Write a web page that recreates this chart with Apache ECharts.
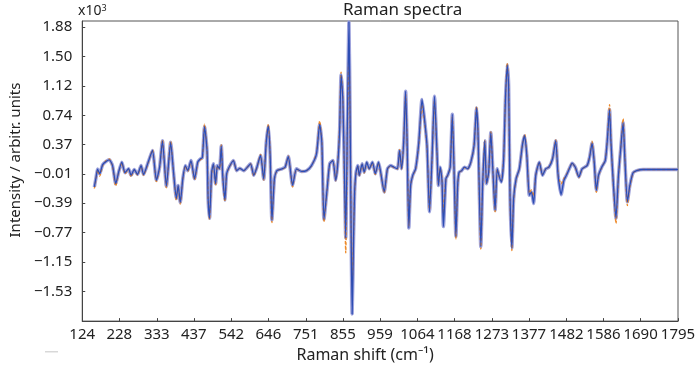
<!DOCTYPE html>
<html><head><meta charset="utf-8">
<script src="https://cdn.jsdelivr.net/npm/echarts@6/dist/echarts.min.js"></script>
<style>html,body{margin:0;padding:0;background:#fff}#c{width:700px;height:368px}</style>
</head><body><div id="c"></div>
<script>
const xTicks = [124,228,333,437,542,646,751,855,959,1064,1168,1273,1377,1482,1586,1690,1795];
const yTicks = [-1.53,-1.15,-0.77,-0.39,-0.01,0.37,0.74,1.12,1.50,1.88];
const ramanShift = [158,163,167,173,181,191,200,209,218,226,235,244,254,261,270,279,289,296,309,321,332,341,349,360,372,380,388,393,399,406,413,420,429,439,448,455,461,467,474,477,481,487,492,498,503,509,514,518,524,529,536,548,557,566,577,596,605,614,624,633,640,646,651,656,663,670,684,693,702,714,725,739,753,767,781,790,796,802,811,818,827,835,841,846,850,855,860,863,868,872,875,878,881,885,888,892,897,901,909,915,922,929,938,946,955,961,971,980,989,998,1008,1014,1020,1026,1031,1035,1040,1045,1051,1059,1068,1077,1084,1091,1098,1105,1112,1119,1123,1128,1133,1137,1144,1149,1156,1162,1168,1172,1177,1181,1188,1196,1205,1214,1223,1230,1234,1242,1247,1253,1258,1264,1270,1276,1282,1288,1294,1300,1306,1311,1316,1320,1324,1329,1334,1341,1350,1359,1365,1371,1378,1384,1390,1396,1406,1415,1424,1433,1443,1452,1458,1461,1467,1475,1482,1492,1498,1507,1517,1526,1540,1547,1554,1560,1566,1572,1581,1591,1597,1603,1607,1614,1621,1628,1635,1641,1646,1653,1660,1669,1679,1697,1734,1795];
const intensityBlue = [-0.18,-0.05,0.05,-0.01,0.105,0.15,0.17,0.095,-0.14,0.01,0.14,0.003,0.055,-0.03,0.045,-0.02,0.096,-0.02,0.14,0.29,-0.095,0.075,0.415,-0.17,0.395,0.01,-0.33,-0.16,-0.38,-0.075,0.096,0.03,0.16,-0.075,0.14,0.18,0.2,0.6,0.29,-0.33,-0.585,0.01,0.118,-0.14,0.096,0.054,0.35,-0.03,-0.35,-0.01,0.075,0.16,0.03,0.06,0.03,0.118,-0.03,0.075,0.23,-0.08,0.39,0.607,0.225,-0.61,-0.074,0.03,0.054,0.075,0.215,-0.16,0.054,0.02,0.03,0.096,0.245,0.63,0.395,-0.6,-0.2,0.118,0.16,-0.095,0.14,0.565,1.267,0.95,-0.16,-0.84,0.735,1.95,0.86,-0.67,-1.82,-0.84,-0.245,0.01,0.096,-0.03,0.118,0.01,0.14,0.054,0.14,-0.01,0.14,0.01,-0.245,0.054,0.096,0.075,0.054,0.29,0.054,0.437,1.054,0.437,-0.71,-0.16,-0.03,0.054,0.394,0.948,0.692,0.352,-0.5,0.18,0.99,0.267,-0.16,0.075,-0.095,-0.69,-0.074,-0.031,0.075,0.756,-0.16,-0.82,-0.16,0.01,0.03,0.075,0.054,0.14,0.352,0.841,0.522,-0.95,-0.16,0.416,-0.138,0.01,0.522,0.01,-0.48,0.054,-0.053,-0.116,0.18,0.948,1.395,1.118,-0.33,-0.968,-0.33,-0.074,0.054,0.373,0.48,0.224,-0.287,-0.245,-0.393,-0.03,0.14,-0.03,0.054,0.075,0.18,0.416,0.01,-0.12,-0.28,-0.095,-0.03,0.075,0.126,0.075,-0.053,0.054,0.096,0.203,0.386,0.14,-0.223,-0.03,0.075,0.16,0.437,0.82,0.394,-0.16,-0.585,-0.03,0.352,0.65,0.182,-0.372,-0.16,0.003,0.03,0.045,0.045,0.045];
const intensityOrange = [-0.2,-0.07,0.04,-0.04,0.09,0.16,0.18,0.08,-0.17,0.0,0.13,-0.01,0.05,-0.05,0.04,-0.03,0.09,-0.03,0.13,0.3,-0.11,0.07,0.43,-0.19,0.41,0.0,-0.35,-0.17,-0.4,-0.08,0.09,0.02,0.15,-0.09,0.13,0.17,0.19,0.63,0.3,-0.32,-0.6,0.0,0.11,-0.16,0.09,0.05,0.36,-0.04,-0.37,-0.02,0.07,0.16,0.03,0.06,0.03,0.12,-0.04,0.07,0.24,-0.09,0.41,0.63,0.24,-0.64,-0.08,0.03,0.05,0.07,0.22,-0.18,0.05,0.02,0.03,0.09,0.26,0.67,0.41,-0.63,-0.21,0.11,0.16,-0.1,0.15,0.6,1.3,0.97,-0.3,-1.03,0.6,1.55,0.8,-0.6,-1.45,-0.8,-0.25,0.0,0.09,-0.04,0.11,0.0,0.13,0.05,0.13,-0.02,0.13,0.0,-0.26,0.05,0.09,0.07,0.05,0.3,0.05,0.45,1.02,0.45,-0.68,-0.17,-0.04,0.05,0.37,0.88,0.66,0.33,-0.47,0.17,0.93,0.26,-0.15,0.06,-0.07,-0.52,-0.07,-0.03,0.07,0.72,-0.17,-0.85,-0.17,0.0,0.03,0.07,0.05,0.14,0.36,0.86,0.54,-0.98,-0.17,0.42,-0.14,0.0,0.53,0.0,-0.5,0.05,-0.05,-0.1,0.19,0.97,1.42,1.13,-0.34,-1.0,-0.34,-0.08,0.05,0.38,0.5,0.23,-0.26,-0.22,-0.3,-0.03,0.14,-0.02,0.05,0.08,0.19,0.43,0.02,-0.08,-0.14,-0.07,-0.02,0.08,0.13,0.07,-0.06,0.05,0.1,0.21,0.41,0.14,-0.25,-0.04,0.07,0.17,0.45,0.88,0.41,-0.18,-0.65,-0.05,0.36,0.7,0.2,-0.42,-0.18,0.0,0.03,0.045,0.045,0.045];

const pairs = vals => ramanShift.map((x, i) => [x, vals[i]]);
const FONT = 'Noto Sans';
const chart = echarts.init(document.getElementById('c'), null, {renderer: 'canvas'});
const fmtY = v => v.toFixed(2).replace('-', '\u2212');
chart.setOption({
  animation: false,
  backgroundColor: '#fff',
  textStyle: {fontFamily: FONT},
  title: {text: 'Raman spectra', left: 338, top: -3,
    textStyle: {fontFamily: FONT, fontSize: 17, fontWeight: 'normal', color: '#222'}},
  grid: {left: 76, right: 22, top: 21, bottom: 44, show: true, borderColor: '#555', borderWidth: 1},
  graphic: [
    {type: 'text', left: 78, top: 4, style: {text: '{a|x10}{b|3}', rich: {
      a: {fontFamily: FONT, fontSize: 14, fill: '#222'},
      b: {fontFamily: FONT, fontSize: 9, fill: '#222', verticalAlign: 'top', padding: [0,0,6,0]}}}},
    {type: 'rect', shape: {x: 45, y: 351, width: 13, height: 1.5}, style: {fill: '#d8d8d8'}}
  ],
  xAxis: {type: 'value', min: 124, max: 1795,
    name: 'Raman shift (cm\u207B\u00B9)', nameLocation: 'middle', nameGap: 21,
    nameTextStyle: {fontFamily: FONT, fontSize: 16, color: '#222', padding: [0, 30, 0, 0]},
    axisLine: {onZero: false, lineStyle: {color: '#444', width: 1}},
    axisTick: {inside: true, length: 3, customValues: xTicks, lineStyle: {color: '#444'}},
    axisLabel: {customValues: xTicks, margin: 6, fontFamily: FONT, fontSize: 15, color: '#222',
      formatter: v => String(v)},
    splitLine: {show: false}},
  yAxis: {type: 'value', min: -1.91, max: 1.96,
    name: 'Intensity / arbitr. units', nameLocation: 'middle', nameGap: 54,
    nameTextStyle: {fontFamily: FONT, fontSize: 15, color: '#222', padding: [0, 0, 0, 22]},
    axisLine: {show: true, onZero: false, lineStyle: {color: '#444', width: 1}},
    axisTick: {show: true, inside: true, length: 3, customValues: yTicks, lineStyle: {color: '#444'}},
    axisLabel: {customValues: yTicks, margin: 10, fontFamily: FONT, fontSize: 15, color: '#222',
      formatter: fmtY},
    splitLine: {show: false}},
  series: [
    {type: 'line', data: pairs(intensityBlue), showSymbol: false, smooth: 0.2, z: 1,
      lineStyle: {color: '#9ea3dc', width: 3.5}},
    {type: 'line', data: pairs(intensityOrange), showSymbol: false, smooth: 0.2, z: 2,
      lineStyle: {color: '#ee8a2a', width: 1.4, type: [3, 2]}},
    {type: 'line', data: pairs(intensityBlue), showSymbol: false, smooth: 0.2, z: 3,
      lineStyle: {color: '#2d4db3', width: 1.3}}
  ]
});
</script></body></html>
